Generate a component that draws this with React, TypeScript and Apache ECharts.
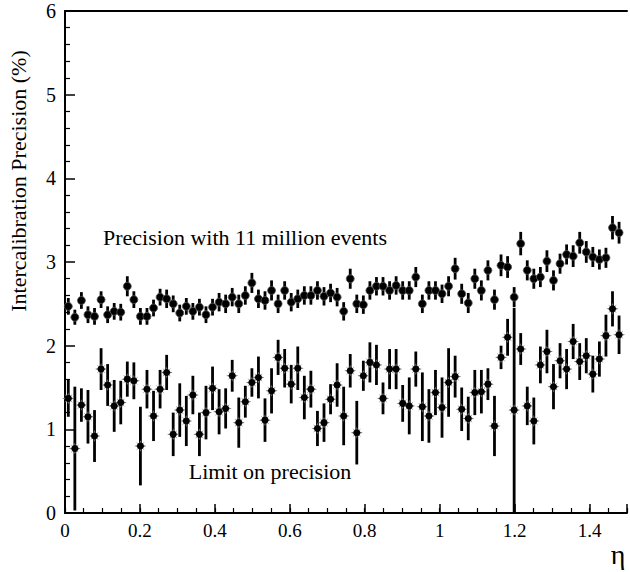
import React, { useEffect, useRef } from "react";
import * as echarts from "echarts";

// eta bin centres (crystal rows)
const eta = [
  0.0088, 0.0263, 0.0438, 0.0613, 0.0788, 0.0963, 0.1138, 0.1313, 0.1488, 0.1663,
  0.1838, 0.2013, 0.2188, 0.2363, 0.2538, 0.2713, 0.2888, 0.3063, 0.3238, 0.3413,
  0.3588, 0.3763, 0.3938, 0.4113, 0.4288, 0.4463, 0.4638, 0.4813, 0.4988, 0.5163,
  0.5338, 0.5513, 0.5688, 0.5863, 0.6038, 0.6213, 0.6388, 0.6563, 0.6738, 0.6913,
  0.7088, 0.7263, 0.7438, 0.7613, 0.7788, 0.7963, 0.8138, 0.8313, 0.8488, 0.8663,
  0.8838, 0.9013, 0.9188, 0.9363, 0.9538, 0.9713, 0.9888, 1.0063, 1.0238, 1.0413,
  1.0588, 1.0763, 1.0938, 1.1113, 1.1288, 1.1463, 1.1638, 1.1813, 1.1988, 1.2163,
  1.2338, 1.2513, 1.2688, 1.2863, 1.3038, 1.3213, 1.3388, 1.3563, 1.3738, 1.3913,
  1.4088, 1.4263, 1.4438, 1.4613, 1.4788,
];

// Precision with 11 million events
const precision = [
  2.47, 2.34, 2.54, 2.37, 2.35, 2.55, 2.37, 2.41, 2.40, 2.71,
  2.55, 2.35, 2.35, 2.45, 2.58, 2.56, 2.50, 2.39, 2.47, 2.41,
  2.46, 2.37, 2.46, 2.52, 2.50, 2.58, 2.50, 2.60, 2.75, 2.56,
  2.54, 2.66, 2.50, 2.66, 2.52, 2.56, 2.60, 2.60, 2.66, 2.59,
  2.63, 2.58, 2.41, 2.80, 2.50, 2.49, 2.66, 2.71, 2.71, 2.66,
  2.72, 2.66, 2.66, 2.82, 2.50, 2.66, 2.66, 2.62, 2.71, 2.92,
  2.62, 2.51, 2.80, 2.66, 2.90, 2.55, 2.96, 2.94, 2.58, 3.22,
  2.90, 2.80, 2.82, 3.01, 2.78, 2.98, 3.09, 3.07, 3.23, 3.12,
  3.06, 3.03, 3.05, 3.41, 3.35,
];
const precisionErr = [
  0.10, 0.09, 0.10, 0.10, 0.10, 0.10, 0.10, 0.10, 0.10, 0.12,
  0.10, 0.10, 0.10, 0.10, 0.10, 0.11, 0.10, 0.10, 0.10, 0.10,
  0.10, 0.10, 0.10, 0.11, 0.11, 0.11, 0.11, 0.11, 0.12, 0.11,
  0.11, 0.12, 0.11, 0.11, 0.11, 0.11, 0.11, 0.11, 0.11, 0.11,
  0.11, 0.11, 0.11, 0.12, 0.11, 0.11, 0.11, 0.11, 0.11, 0.11,
  0.11, 0.11, 0.11, 0.12, 0.11, 0.11, 0.11, 0.11, 0.12, 0.13,
  0.12, 0.12, 0.12, 0.12, 0.12, 0.12, 0.13, 0.13, 0.12, 0.14,
  0.12, 0.12, 0.12, 0.13, 0.12, 0.12, 0.12, 0.13, 0.13, 0.13,
  0.12, 0.12, 0.12, 0.14, 0.13,
];

// Limit on precision
const limit = [
  1.37, 0.77, 1.29, 1.15, 0.92, 1.72, 1.53, 1.28, 1.32, 1.60,
  1.58, 0.80, 1.48, 1.16, 1.48, 1.68, 0.94, 1.23, 1.10, 1.41,
  0.94, 1.20, 1.49, 1.21, 1.25, 1.64, 1.08, 1.33, 1.56, 1.62,
  1.11, 1.46, 1.86, 1.73, 1.54, 1.73, 1.38, 1.48, 1.01, 1.08,
  1.36, 1.53, 1.16, 1.70, 0.96, 1.64, 1.80, 1.77, 1.37, 1.72,
  1.72, 1.31, 1.28, 1.72, 1.27, 1.16, 1.44, 1.26, 1.56, 1.63,
  1.24, 1.13, 1.44, 1.45, 1.54, 1.04, 1.86, 2.10, 1.23, 1.96,
  1.28, 1.10, 1.77, 1.93, 1.51, 1.82, 1.72, 2.05, 1.81, 1.88,
  1.66, 1.84, 2.12, 2.44, 2.13,
];
const limitErr = [
  0.22, 0.74, 0.20, 0.32, 0.31, 0.25, 0.25, 0.31, 0.26, 0.21,
  0.22, 0.47, 0.23, 0.30, 0.23, 0.21, 0.26, 0.32, 0.30, 0.23,
  0.26, 0.32, 0.26, 0.27, 0.24, 0.19, 0.30, 0.19, 0.17, 0.25,
  0.26, 0.27, 0.21, 0.23, 0.23, 0.26, 0.26, 0.22, 0.21, 0.23,
  0.18, 0.26, 0.35, 0.20, 0.38, 0.18, 0.24, 0.24, 0.19, 0.24,
  0.24, 0.22, 0.34, 0.21, 0.41, 0.32, 0.27, 0.36, 0.41, 0.25,
  0.26, 0.26, 0.27, 0.26, 0.19, 0.36, 0.14, 0.22, 1.22, 0.19,
  0.23, 0.28, 0.22, 0.26, 0.27, 0.21, 0.24, 0.21, 0.22, 0.21,
  0.22, 0.21, 0.25, 0.21, 0.23,
];

const xMajorTicks = [0, 0.2, 0.4, 0.6, 0.8, 1, 1.2, 1.4];
const yTicks = [0, 1, 2, 3, 4, 5, 6];

const FONT = "Liberation Serif";
const STAR =
  "path://M0,-5L1.1,-1.7L3.6,-3.6L1.7,-1.1L5,0L1.7,1.1L3.6,3.6L1.1,1.7L0,5L-1.1,1.7L-3.6,3.6L-1.7,1.1L-5,0L-1.7,-1.1L-3.6,-3.6L-1.1,-1.7Z";

function errorRender(width: number) {
  return (params: any, api: any) => {
    const x = api.value(0);
    const y = api.value(1);
    const e = api.value(2);
    const lo = Math.max(0, y - e);
    const p1 = api.coord([x, y + e]);
    const p2 = api.coord([x, lo]);
    return {
      type: "line",
      shape: { x1: p1[0], y1: p1[1], x2: p2[0], y2: p2[1] },
      style: { stroke: "#000", lineWidth: width },
    };
  };
}

function label(text: string, x: number, y: number, size: number, rotation = 0) {
  return {
    type: "text",
    x,
    y,
    rotation,
    style: {
      text,
      fontFamily: FONT,
      fontSize: size,
      fill: "#000",
      textAlign: "center",
      textVerticalAlign: "middle",
    },
  };
}

export default function App() {
  const ref = useRef<HTMLDivElement>(null);
  useEffect(() => {
    if (!ref.current) return;
    const chart = echarts.init(ref.current, null, { renderer: "svg" });
    const upperData = eta.map((x, i) => [x, precision[i], precisionErr[i]]);
    const lowerData = eta.map((x, i) => [x, limit[i], limitErr[i]]);
    const isMajor = (v: number) => xMajorTicks.some((t) => Math.abs(t - v) < 1e-6);
    const option: any = {
      animation: false,
      backgroundColor: "#fff",
      textStyle: { fontFamily: FONT },
      grid: { left: 65, top: 11, right: 0, bottom: 59, containLabel: false },
      xAxis: [
        {
          type: "value",
          min: 0,
          max: 1.5,
          interval: 0.05,
          position: "bottom",
          axisLine: { show: true, onZero: false, lineStyle: { color: "#000", width: 2 } },
          axisTick: { show: true, inside: true, length: 5, lineStyle: { color: "#000", width: 1.2 } },
          axisLabel: {
            formatter: (v: number) => (isMajor(v) ? String(Math.round(v * 10) / 10) : ""),
            fontFamily: FONT,
            fontSize: 19,
            color: "#000",
            margin: 8,
          },
          splitLine: { show: false },
        },
        {
          type: "value",
          min: 0,
          max: 1.5,
          interval: 0.2,
          position: "bottom",
          axisLine: { show: false },
          axisTick: { show: true, inside: true, length: 9, lineStyle: { color: "#000", width: 1.5 } },
          axisLabel: { show: false },
          splitLine: { show: false },
        },
        {
          type: "value",
          min: 0,
          max: 1.5,
          position: "top",
          axisLine: { show: true, onZero: false, lineStyle: { color: "#000", width: 2 } },
          axisTick: { show: false },
          axisLabel: { show: false },
          splitLine: { show: false },
        },
      ],
      yAxis: {
        type: "value",
        min: yTicks[0],
        max: yTicks[yTicks.length - 1],
        interval: 1,
        axisLine: { show: true, onZero: false, lineStyle: { color: "#000", width: 2 } },
        axisTick: { show: true, inside: true, length: 10, lineStyle: { color: "#000", width: 1.5 } },
        minorTick: { show: true, splitNumber: 5, length: 5, lineStyle: { color: "#000", width: 1.2 } },
        axisLabel: { fontFamily: FONT, fontSize: 20, color: "#000", margin: 9 },
        splitLine: { show: false },
        minorSplitLine: { show: false },
      },
      series: [
        {
          type: "custom",
          xAxisIndex: 0,
          renderItem: errorRender(2.8),
          data: upperData,
          encode: { x: 0, y: 1 },
          z: 2,
        },
        {
          type: "scatter",
          xAxisIndex: 0,
          data: upperData.map((d) => [d[0], d[1]]),
          symbol: "circle",
          symbolSize: 8,
          itemStyle: { color: "#000", borderColor: "#555", borderWidth: 0.8, opacity: 1 },
          z: 3,
        },
        {
          type: "custom",
          xAxisIndex: 0,
          renderItem: errorRender(2.8),
          data: lowerData,
          encode: { x: 0, y: 1 },
          z: 2,
        },
        {
          type: "scatter",
          xAxisIndex: 0,
          data: lowerData.map((d) => [d[0], d[1]]),
          symbol: STAR,
          symbolSize: 12,
          itemStyle: { color: "#6e6e6e", opacity: 1 },
          z: 3,
          silent: true,
        },
        {
          type: "scatter",
          xAxisIndex: 0,
          data: lowerData.map((d) => [d[0], d[1]]),
          symbol: "circle",
          symbolSize: 7,
          itemStyle: { color: "#000", opacity: 1 },
          z: 4,
        },
      ],
      graphic: [
        label("Intercalibration Precision (%)", 18, 181, 22, Math.PI / 2),
        label("Precision with 11 million events", 245, 237, 22),
        label("Limit on precision", 270, 471, 22),
        label("η", 618, 554, 28),
      ],
    };
    chart.setOption(option);
    return () => chart.dispose();
  }, []);
  return (
    <div
      ref={ref}
      style={{ position: "absolute", left: 0, top: 0, width: 630, height: 572, background: "#fff" }}
    />
  );
}
